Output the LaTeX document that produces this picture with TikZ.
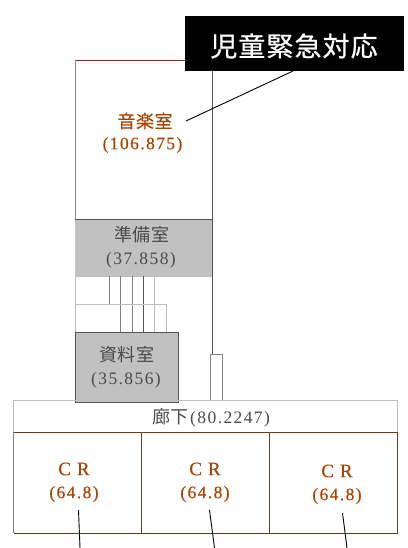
\documentclass[tikz,border=0pt]{standalone}
\usepackage{fontspec}
\setmainfont{Liberation Serif}
\newfontfamily\cjk{Noto Sans CJK JP}[Scale=1]
\definecolor{rb}{HTML}{A84400}
\definecolor{wallb}{HTML}{6B3A1E}
\definecolor{gw}{HTML}{BEBEBE}
\definecolor{dw}{HTML}{555555}
\definecolor{tg}{HTML}{4A4A4A}
\tikzset{
  px/.style={inner sep=0pt,outer sep=0pt,anchor=north west},
  lab/.style={inner sep=0pt,outer sep=0pt,anchor=center,align=center},
  room/.style={lab,text=rb},
  grey/.style={lab,text=tg},
  thin wall/.style={line width=0.8pt},
  pointer/.style={draw=black,line width=0.9pt}
}
\newcommand{\jp}[1]{{\cjk\fontsize{18}{24}\selectfont\addfontfeature{LetterSpace=3}#1}}
\newcommand{\num}[1]{{\fontsize{17.5}{24}\selectfont\addfontfeature{LetterSpace=8}#1}}
\newcommand{\rjp}[1]{{\cjk\fontsize{18}{24}\selectfont\addfontfeature{LetterSpace=3,FakeBold=0.4}#1}}
\newcommand{\rnum}[1]{{\fontsize{17.5}{24}\selectfont\addfontfeature{LetterSpace=8,FakeBold=0.4}#1}}
\begin{document}
\begin{tikzpicture}[x=1pt,y=-1pt]
\useasboundingbox (0,0) rectangle (407,548);
% filled rooms
\fill[gw!95!white] (75,219) rectangle (212,276);
\fill[gw!95!white] (75,332.5) rectangle (178.5,402);
% music room walls
\draw[thin wall,draw=wallb] (75,60) -- (186,60);
\draw[thin wall,draw=dw!70!white] (75,60) -- (75,219);
\draw[thin wall,draw=dw] (212,60) -- (212,354);
\draw[thin wall,draw=dw] (75,219) -- (212,219);
\draw[thin wall,draw=gw] (75,276) -- (212,276);
\draw[thin wall,draw=gw] (75,276) -- (75,332);
% stair lines
\draw[line width=1pt,draw=gray] (109,276) -- (109,304);
\draw[thin wall,draw=gray] (120.5,276) -- (120.5,332);
\draw[thin wall,draw=gray] (132,276) -- (132,332);
\draw[thin wall,draw=dw] (143.5,276) -- (143.5,332);
\draw[thin wall,draw=gw] (154.5,276) -- (154.5,332);
\draw[line width=1pt,draw=gw] (75,304) -- (166,304) -- (166,332);
% reference room
\draw[line width=1pt,draw=dw] (75,332.5) rectangle (178.5,402);
% small box
\draw[thin wall,draw=gw!70!black] (222.5,400) -- (222.5,354) -- (210.5,354) -- (210.5,400);
% corridor
\draw[line width=1pt,draw=gw] (13.5,432) -- (13.5,400) -- (397.5,400) -- (397.5,432);
\draw[line width=1pt,draw=gw] (13.5,432) -- (397.5,432);
\draw[line width=0.7pt,draw=wallb] (13.5,432.5) -- (397.5,432.5);
% classrooms
\draw[thin wall,draw=gray] (13.5,432) -- (13.5,533);
\draw[thin wall,draw=wallb] (13.5,533) -- (397.5,533) -- (397.5,432);
\draw[thin wall,draw=wallb] (141.5,432) -- (141.5,533);
\draw[thin wall,draw=wallb] (269.5,432) -- (269.5,533);
% callout
\node[px,fill=black,minimum width=218.5pt,minimum height=55pt] (callout) at (185,16) {};
\node[inner sep=0pt,text=white] (calloutT) at (294,46) {\cjk\fontsize{27}{30}\selectfont\addfontfeature{LetterSpace=4,FakeBold=0.6}児童緊急対応};
\coordinate (calloutEnd) at (293,71);
\coordinate (musicEnd) at (186,121);
\draw[pointer] (calloutEnd) -- (musicEnd);
% labels
\node[room] (music) at (145,121) {\rjp{音楽室}};
\node[room] (musicN) at (142.5,145) {\rnum{(106.875)}};
\node[grey] (prep) at (142,235) {\jp{準備室}};
\node[grey] (prepN) at (141,260) {\num{(37.858)}};
\node[grey] (refr) at (127,355) {\jp{資料室}};
\node[grey] (refrN) at (126,380) {\num{(35.856)}};
\node[grey] (corr) at (211,418) {\jp{廊下}\,\num{(80.2247)}};
\foreach \n/\x/\y in {a/74/469,b/205/469,c/337/471}{
  \node[room] (cr\n) at (\x,\y) {\fontsize{19}{24}\selectfont\addfontfeature{FakeBold=0.4}C\hspace{6pt}R};
  \node[room] (crn\n) at (\x,\y+25) {\rnum{(64.8)}};
}
% pointers below classrooms
\coordinate (p1a) at (78.5,510); \coordinate (p1b) at (80,548);
\coordinate (p2a) at (209.5,510); \coordinate (p2b) at (214.5,548);
\coordinate (p3a) at (342.5,513); \coordinate (p3b) at (347,548);
\draw[pointer] (p1a) -- (p1b);
\draw[pointer] (p2a) -- (p2b);
\draw[pointer] (p3a) -- (p3b);
\end{tikzpicture}
\end{document}
